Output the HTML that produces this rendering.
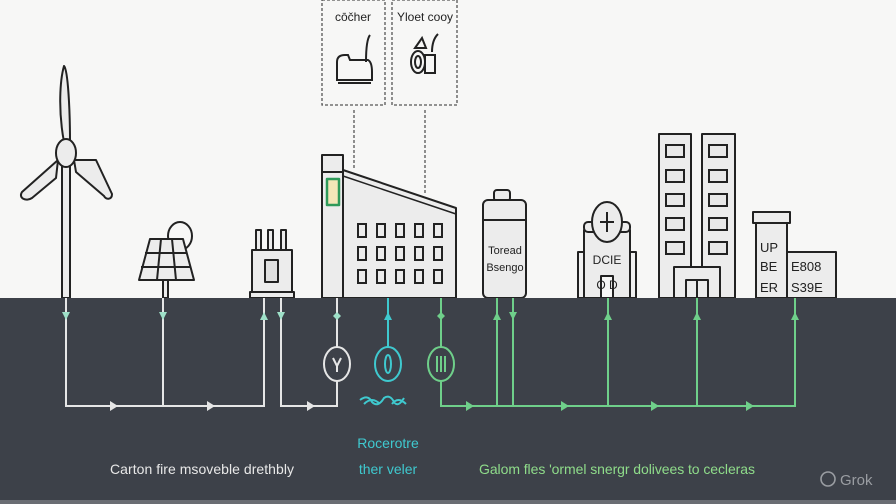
<!DOCTYPE html>
<html><head><meta charset="utf-8"><style>
html,body{margin:0;padding:0;background:#f7f7f6;}
svg{display:block}
text{font-family:"Liberation Sans",sans-serif}
</style></head><body>
<svg width="896" height="504" viewBox="0 0 896 504" xmlns="http://www.w3.org/2000/svg">
<rect width="896" height="504" fill="#f7f7f6"/>
<g stroke="#222" stroke-width="2" fill="#ececec" stroke-linejoin="round">
<!-- turbine -->
<rect x="62" y="165" width="8" height="133"/>
<path d="M64 142 C58 110 60 80 64 66 C68 70 70 110 70 142 Z"/>
<path d="M58 160 L22 192 C18 198 26 202 32 198 L56 178 Z"/>
<path d="M74 160 L96 160 L112 194 C112 200 106 200 104 196 L76 172 Z"/>
<ellipse cx="66" cy="153" rx="10" ry="14"/>
<!-- solar -->
<ellipse cx="180" cy="236" rx="12" ry="14" fill="#f7f7f6"/>
<rect x="163" y="280" width="5" height="18"/>
<path d="M150 239 L183 239 L194 280 L139 280 Z"/>
<path d="M145 253 L187 253 M141 267 L191 267 M161 239 L157 280 M172 239 L176 280" fill="none"/>
<!-- transformer -->
<rect x="256" y="230" width="5" height="20"/><rect x="268" y="230" width="5" height="20"/><rect x="281" y="230" width="5" height="20"/>
<rect x="252" y="250" width="40" height="42"/>
<rect x="250" y="292" width="44" height="6"/>
<rect x="265" y="260" width="13" height="22" fill="#e0e0e0"/>
<!-- factory -->
<path d="M343 170 L456 208 L456 298 L343 298 Z"/>
<path d="M343 176 L456 214" fill="none" stroke-width="1.5"/>
<rect x="322" y="155" width="21" height="143"/>
<line x1="322" y1="172" x2="343" y2="172"/>
<rect x="327" y="179" width="12" height="26" fill="#f3e7b8" stroke="#2f9a5a" stroke-width="2.5"/>
<!-- battery -->
<rect x="494" y="190" width="16" height="11" rx="3"/>
<rect x="483" y="200" width="43" height="98" rx="5"/>
<line x1="483" y1="220" x2="526" y2="220"/>
<!-- hospital -->
<rect x="578" y="252" width="58" height="46" fill="#f0f0f0"/>
<rect x="584" y="230" width="46" height="68"/>
<rect x="584" y="222" width="46" height="10" rx="4"/>
<ellipse cx="607" cy="222" rx="15" ry="20"/>
<path d="M600 222 L614 222 M607 212 L607 232" fill="none"/>
<rect x="601" y="276" width="12" height="22" fill="#f7f7f6"/>
<!-- towers -->
<rect x="659" y="134" width="32" height="164"/>
<rect x="702" y="134" width="33" height="164"/>
<rect x="674" y="267" width="46" height="31"/>
<rect x="686" y="280" width="22" height="18"/>
<line x1="697" y1="280" x2="697" y2="298"/>
<!-- right buildings -->
<rect x="756" y="222" width="31" height="76"/>
<rect x="753" y="212" width="37" height="11"/>
<rect x="787" y="252" width="49" height="46"/>
</g>
<g fill="none" stroke="#222" stroke-width="2">
<rect x="358" y="224" width="8" height="13"/><rect x="377" y="224" width="8" height="13"/><rect x="396" y="224" width="8" height="13"/><rect x="415" y="224" width="8" height="13"/><rect x="434" y="224" width="8" height="13"/>
<rect x="358" y="247" width="8" height="13"/><rect x="377" y="247" width="8" height="13"/><rect x="396" y="247" width="8" height="13"/><rect x="415" y="247" width="8" height="13"/><rect x="434" y="247" width="8" height="13"/>
<rect x="358" y="270" width="8" height="13"/><rect x="377" y="270" width="8" height="13"/><rect x="396" y="270" width="8" height="13"/><rect x="415" y="270" width="8" height="13"/><rect x="434" y="270" width="8" height="13"/>
<g fill="#e8e8e8">
<rect x="666" y="145" width="18" height="12"/><rect x="666" y="170" width="18" height="12"/><rect x="666" y="194" width="18" height="12"/><rect x="666" y="218" width="18" height="12"/><rect x="666" y="242" width="18" height="12"/>
<rect x="709" y="145" width="18" height="12"/><rect x="709" y="170" width="18" height="12"/><rect x="709" y="194" width="18" height="12"/><rect x="709" y="218" width="18" height="12"/><rect x="709" y="242" width="18" height="12"/>
</g>
</g>
<!-- dashed boxes -->
<g fill="none" stroke="#555" stroke-width="1.3" stroke-dasharray="3,2">
<rect x="322" y="0" width="63" height="105"/>
<rect x="392" y="0" width="65" height="105"/>
<line x1="354" y1="110" x2="354" y2="170"/>
<line x1="425" y1="110" x2="425" y2="193"/>
</g>
<g fill="none" stroke="#222" stroke-width="2">
<path d="M337 62 Q337 55 345 55 L348 55 L350 60 L368 60 Q372 62 372 72 L372 80 L337 80 Z"/>
<line x1="338" y1="83" x2="371" y2="83"/>
<path d="M366 62 Q366 40 370 35"/>
<ellipse cx="418" cy="62" rx="7" ry="11"/><ellipse cx="418" cy="62" rx="3" ry="6"/>
<rect x="425" y="55" width="10" height="18"/><path d="M415 48 L422 38 L426 48 Z M432 52 Q432 40 438 34"/>
</g>
<text x="353" y="21" font-size="12" text-anchor="middle" fill="#222">cōčher</text>
<text x="425" y="21" font-size="12" text-anchor="middle" fill="#222">Yloet cooy</text>
<text x="505" y="254" font-size="11" text-anchor="middle" fill="#222">Toread</text>
<text x="505" y="271" font-size="11" text-anchor="middle" fill="#222">Bsengo</text>
<text x="607" y="264" font-size="12" text-anchor="middle" fill="#222" font-family="Liberation Mono">DCIE</text>
<text x="607" y="289" font-size="12" text-anchor="middle" fill="#222" font-family="Liberation Mono">O  D</text>
<g font-family="Liberation Mono" font-size="13" fill="#222">
<text x="760" y="252">UP</text><text x="760" y="271">BE</text><text x="760" y="292">ER</text>
<text x="791" y="271">E808</text><text x="791" y="292">S39E</text>
</g>
<!-- ground -->
<rect x="0" y="298" width="896" height="206" fill="#3d4149"/>
<rect x="0" y="500" width="896" height="4" fill="#6a6d73"/>
<!-- white lines -->
<g fill="none" stroke="#e6e6e6" stroke-width="2">
<path d="M66 298 V406 H264 V298"/>
<path d="M163 298 V406"/>
<path d="M281 298 V406 H337 V381"/>
<path d="M337 298 V347"/>
<ellipse cx="337" cy="364" rx="13" ry="17"/>
<path d="M333 358 L337 366 L341 358 M337 366 V372"/>
</g>
<g fill="#e6e6e6">
<path d="M110 401 L118 406 L110 411 Z"/><path d="M207 401 L215 406 L207 411 Z"/><path d="M307 401 L315 406 L307 411 Z"/>
</g>
<g fill="#9ee0c8">
<path d="M62 312 L66 320 L70 312 Z"/><path d="M159 312 L163 320 L167 312 Z"/><path d="M260 320 L264 312 L268 320 Z"/><path d="M277 312 L281 320 L285 312 Z"/><path d="M333 316 L337 312 L341 316 L337 320 Z"/>
</g>
<!-- cyan -->
<g fill="none" stroke="#3fc9cf" stroke-width="2">
<path d="M388 298 V347"/>
<ellipse cx="388" cy="364" rx="13" ry="17"/>
<ellipse cx="388" cy="364" rx="3" ry="9"/>
<path d="M360 400 Q368 394 372 402 Q378 408 384 398 Q390 394 394 402 Q398 408 404 398 M364 404 Q372 396 380 404 M392 404 Q398 396 406 404"/>
</g>
<path d="M384 320 L388 312 L392 320 Z" fill="#3fc9cf"/>
<!-- green -->
<g fill="none" stroke="#6fcf8a" stroke-width="2">
<path d="M441 298 V347"/>
<ellipse cx="441" cy="364" rx="13" ry="17"/>
<path d="M437 356 V372 M441 356 V372 M445 356 V372"/>
<path d="M441 381 V406 H795 V298"/>
<path d="M497 298 V406 M513 298 V406 M608 298 V406 M697 298 V406"/>
</g>
<g fill="#6fcf8a">
<path d="M437 316 L441 312 L445 316 L441 320 Z"/>
<path d="M493 320 L497 312 L501 320 Z"/><path d="M509 312 L513 320 L517 312 Z"/><path d="M604 320 L608 312 L612 320 Z"/><path d="M693 320 L697 312 L701 320 Z"/><path d="M791 320 L795 312 L799 320 Z"/>
<path d="M466 401 L474 406 L466 411 Z"/><path d="M561 401 L569 406 L561 411 Z"/><path d="M651 401 L659 406 L651 411 Z"/><path d="M746 401 L754 406 L746 411 Z"/>
</g>
<text x="110" y="474" font-size="14" fill="#e8e8e8" textLength="184">Carton fire msoveble drethbly</text>
<text x="388" y="448" font-size="14" fill="#3fc9cf" text-anchor="middle">Rocerotre</text>
<text x="388" y="474" font-size="14" fill="#3fc9cf" text-anchor="middle">ther veler</text>
<text x="479" y="474" font-size="14" fill="#8fdc8a" textLength="276">Galom fles 'ormel snergr dolivees to cecleras</text>
<g fill="#9a9da2">
<circle cx="828" cy="479" r="7" fill="none" stroke="#9a9da2" stroke-width="1.6"/>
<text x="840" y="485" font-size="15">Grok</text>
</g>
</svg>
</body></html>
